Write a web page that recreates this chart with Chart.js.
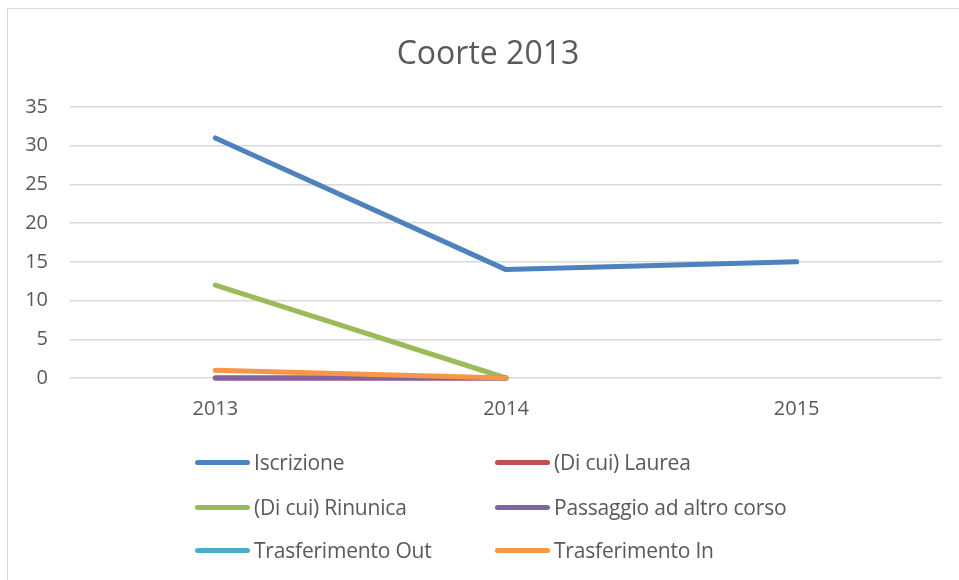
<!DOCTYPE html>
<html><head><meta charset="utf-8">
<script src="https://cdn.jsdelivr.net/npm/chart.js@4/dist/chart.umd.min.js"></script>
<style>
html,body{margin:0;padding:0;background:#fff;width:959px;height:580px;overflow:hidden;font-family:"Open Sans",sans-serif;}
#frame{position:absolute;left:7px;top:8px;width:1000px;height:600px;border:1.5px solid #d9d9d9;box-sizing:border-box;}
#wrap{position:absolute;left:0;top:0;width:959px;height:580px;}
#title{position:absolute;left:288px;width:400px;top:32px;text-align:center;font-size:32px;line-height:40px;color:#595959;}
#legend{position:absolute;left:0;top:0;width:959px;height:580px;pointer-events:none;}
.li{position:absolute;display:flex;align-items:center;font-size:21px;color:#595959;white-space:nowrap;letter-spacing:-0.2px;}
.sw{width:55px;height:5px;border-radius:3px;margin-right:4px;}
</style></head>
<body>
<div id="frame"></div>
<div id="wrap"><canvas id="c" width="959" height="580"></canvas></div>
<div id="title">Coorte 2013</div>
<div id="legend"></div>
<script>
const categories = ["2013","2014","2015"];
const seriesNames = ["Iscrizione","(Di cui) Laurea","(Di cui) Rinunica","Passaggio ad altro corso","Trasferimento Out","Trasferimento In"];
const iscrizione = [31,14,15];
const laurea = [0,0,null];
const rinuncia = [12,0,null];
const passaggio = [0,0,null];
const trasfOut = [null,null,null];
const trasfIn = [1,0,null];
const yTicks = [0,5,10,15,20,25,30,35];
const colors = ["#4F81BD","#C0504D","#9BBB59","#8064A2","#4BACC6","#F79646"];
const allData = [iscrizione,laurea,rinuncia,passaggio,trasfOut,trasfIn];

const datasets = allData.map((d,i)=>({
  label: seriesNames[i],
  data: d,
  borderColor: colors[i],
  backgroundColor: colors[i],
  borderWidth: 5,
  pointRadius: 0,
  tension: 0,
  borderCapStyle: 'round',
  borderJoinStyle: 'round',
  spanGaps: false,
  clip: 8,
  order: allData.length - 1 - i
}));

new Chart(document.getElementById('c'), {
  type: 'line',
  data: { labels: categories, datasets },
  options: {
    responsive: false,
    animation: false,
    layout: { padding: { left: 0, right: 17, top: 107, bottom: 0 } },
    plugins: {
      legend: { display: false },
      tooltip: { enabled: false },
      title: { display: false }
    },
    scales: {
      x: {
        offset: true,
        grid: { display: false },
        border: { display: false },
        ticks: { color: '#595959', font: { family: 'Open Sans', size: 20 }, padding: 11 },
        afterFit: (s) => { s.height = 580 - 378; }
      },
      y: {
        min: 0, max: 35,
        afterBuildTicks: (s) => { s.ticks = yTicks.map(v=>({value:v})); },
        grid: { color: '#d9d9d9', lineWidth: 1.5, drawTicks: false },
        border: { display: false },
        ticks: { color: '#595959', font: { family: 'Open Sans', size: 20 }, padding: 22 },
        afterFit: (s) => { s.width = 70; }
      }
    }
  }
});

const legendPos = [[195,462],[495,462],[195,507],[495,507],[195,550],[495,550]];
const lg = document.getElementById('legend');
seriesNames.forEach((n,i)=>{
  const el = document.createElement('div');
  el.className = 'li';
  el.style.left = legendPos[i][0] + 'px';
  el.style.top = (legendPos[i][1] - 14) + 'px';
  el.style.height = '28px';
  el.innerHTML = '<span class="sw" style="background:'+colors[i]+'"></span><span>'+n+'</span>';
  lg.appendChild(el);
});
</script>
</body></html>
